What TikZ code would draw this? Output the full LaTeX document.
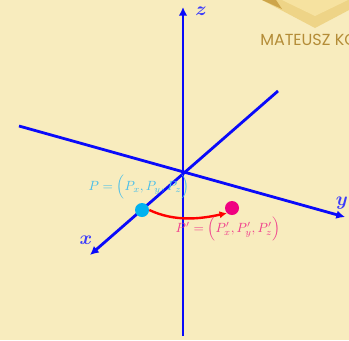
\documentclass[tikz,border=0pt]{standalone}
\usepackage{amsmath,amssymb}
\usepackage{fontspec}
\newfontfamily\logofont{Poppins}
\usetikzlibrary{arrows.meta, positioning}
\definecolor{paper}{RGB}{248,236,190}
\definecolor{axisblue}{RGB}{10,10,250}
\definecolor{pcyan}{RGB}{0,178,240}
\definecolor{pcyantext}{RGB}{70,190,235}
\definecolor{pmag}{RGB}{240,0,128}
\definecolor{pmagtext}{RGB}{240,60,140}
\definecolor{goldA}{RGB}{238,212,135}
\definecolor{goldB}{RGB}{246,226,160}
\definecolor{goldC}{RGB}{205,165,75}
\definecolor{goldtext}{RGB}{180,140,55}

\begin{document}
\begin{tikzpicture}[
    x=0.75pt, y=-0.75pt,
    axis/.style  = {draw=axisblue, line width=2.1pt, -{Latex[length=6.5pt, width=6.5pt]}},
    axlabel/.style = {text=axisblue!80!white, font=\Large\boldmath, inner sep=0pt},
    point/.style = {circle, inner sep=0pt, minimum size=10.5pt},
    curve/.style = {draw=red, line width=1.8pt, -{Latex[length=5.5pt, width=5.5pt]}}
]

% Background
\fill [paper] (0,0) rectangle (349,340);
\useasboundingbox (0,0) rectangle (349,340);
\begin{scope}
\clip (0,0) rectangle (349,340);
% Logo
\fill [goldA] (262,0) -- (315,28) -- (368,0) -- cycle;
\fill [goldB] (282,0) -- (315,16) -- (348,0) -- cycle;
\fill [goldC] (262,0) -- (282,9) -- (276,0) -- cycle;
\node (logo) [anchor=base west, text=goldtext, font=\logofont\fontsize{12}{12}\selectfont, inner sep=0pt] at (260,45) {MATEUSZ KO};
\end{scope}

% Axis ends
\coordinate (O)  at (183,172);
\coordinate (z0) at (183,336);
\coordinate (z1) at (183,7);
\coordinate (y0) at (19,126);
\coordinate (y1) at (345,217);
\coordinate (x0) at (278,91);
\coordinate (x1) at (90,255);

% Axes
\draw [axis] (z0) -- (z1);
\draw [axis] (y0) -- (y1);
\draw [axis] (x0) -- (x1);

\node (zlab) [axlabel] at (201,11) {$z$};
\node (ylab) [axlabel] at (342,203) {$y$};
\node (xlab) [axlabel] at (86,240) {$x$};

% Points
\node (P)  [point, fill=pcyan] at (142,210) {};
\node (Pp) [point, fill=pmag]  at (232,208) {};

% Rotation
\draw [curve] (P.east) .. controls (175,222) and (200,219) .. (Pp.south west);

% Labels
\node (Plab)  [text=pcyantext] at (139,187) {$P=\Big(P_x,P_y,P_z\Big)$};
\node (Pplab) [text=pmagtext] at (228,229) {$P'=\Big(P'_x,P'_y,P'_z\Big)$};

\end{tikzpicture}
\end{document}
